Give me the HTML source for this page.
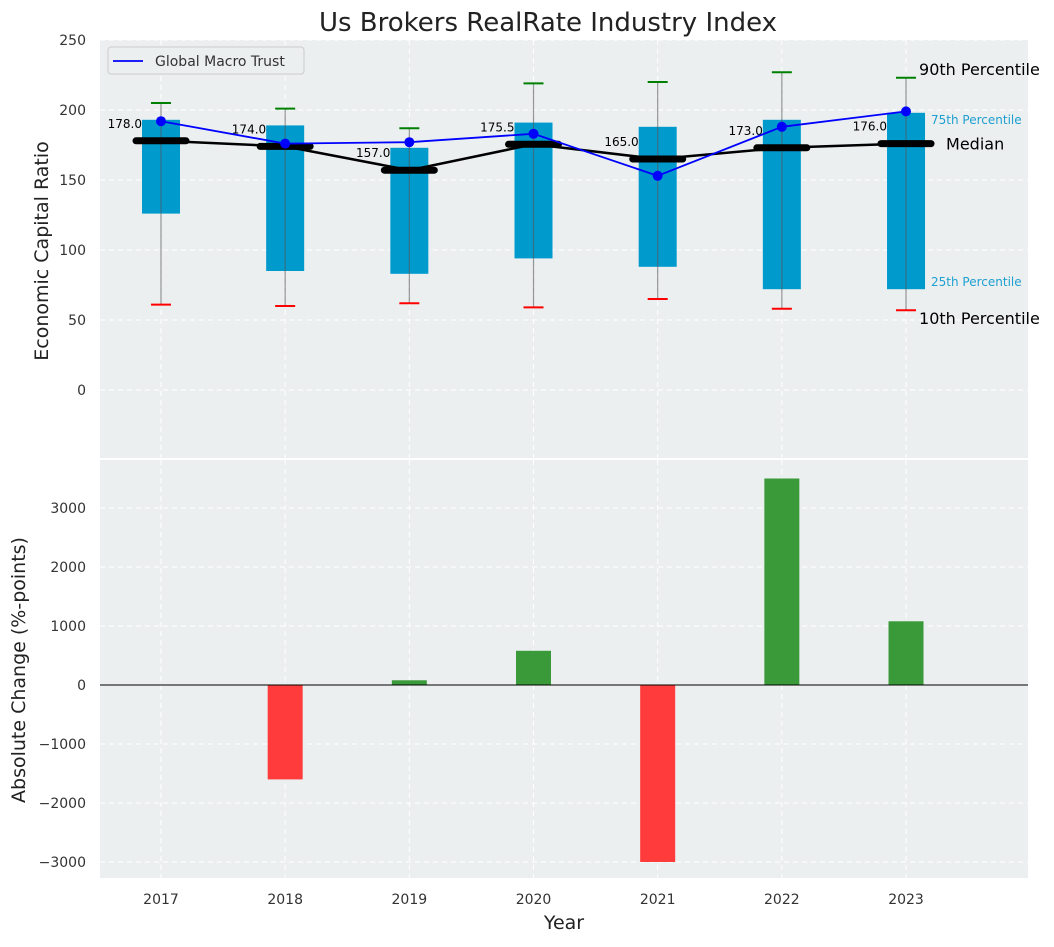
<!DOCTYPE html>
<html><head><meta charset="utf-8">
<style>
body{margin:0;background:#fff;font-family:"Liberation Sans","DejaVu Sans",sans-serif;}
svg text{font-family:"DejaVu Sans","Liberation Sans",sans-serif;}
</style></head>
<body>
<svg id="chart" width="1054" height="942" xmlns="http://www.w3.org/2000/svg"></svg>
<script>
const years=[2017,2018,2019,2020,2021,2022,2023];
const p10=[61,60,62,59,65,58,57];
const p25=[126,85,83,94,88,72,72];
const p50=[178,174,157,175.5,165,173,176];
const p75=[193,189,173,191,188,193,198];
const p90=[205,201,187,219,220,227,223];
const company=[192,176,177,183,153,188,199];
const changes=[0,-1600,80,580,-3000,3500,1080];
const topTicks=[0,50,100,150,200,250];
const botTicks=[-3000,-2000,-1000,0,1000,2000,3000];

const NS='http://www.w3.org/2000/svg';
const svg=document.getElementById('chart');
function el(tag,attrs,parent,text){const e=document.createElementNS(NS,tag);for(const k in attrs)e.setAttribute(k,attrs[k]);if(text!==undefined)e.textContent=text;(parent||svg).appendChild(e);return e;}
const L=100,R=1028;
const x=v=>161+(v-2017)*124.17;
const T1=40,B1=458,T2=460,B2=878;
const y1=v=>390-(v)*1.4;
const y2=v=>685-v*0.059;

let g=el('g',{});

el('rect',{x:L,y:T1,width:R-L,height:B1-T1,fill:'#ebeff0'},g);
let g2=el('g',{});

el('rect',{x:L,y:T2,width:R-L,height:B2-T2,fill:'#ebeff0'},g2);
years.forEach(yr=>{
 el('line',{x1:x(yr),x2:x(yr),y1:T1,y2:B1,stroke:'#fff','stroke-dasharray':'5,4','stroke-width':1},g);
 el('line',{x1:x(yr),x2:x(yr),y1:T2,y2:B2,stroke:'#fff','stroke-dasharray':'5,4','stroke-width':1},g2);
 const t=el('text',{x:x(yr),y:904,'text-anchor':'middle','font-size':14,fill:'#333'},svg,String(yr));
 
});
topTicks.forEach(v=>{
 el('line',{x1:L,x2:R,y1:y1(v),y2:y1(v),stroke:'#fff','stroke-dasharray':'5,4'},g);
 const t=el('text',{x:86,y:y1(v)+5,'text-anchor':'end','font-size':14,fill:'#333'},svg,String(v));
 
});
botTicks.forEach(v=>{
 el('line',{x1:L,x2:R,y1:y2(v),y2:y2(v),stroke:'#fff','stroke-dasharray':'5,4'},g2);
 const t=el('text',{x:86,y:y2(v)+5,'text-anchor':'end','font-size':14,fill:'#333'},svg,(v<0?'\u2212'+(-v):String(v)));
 
});
const bw=38;
years.forEach((yr,i)=>{
 const cx=x(yr);
 const b=el('rect',{x:cx-bw/2,y:y1(p75[i]),width:bw,height:y1(p25[i])-y1(p75[i]),fill:'#009acd'},g);
 
 el('line',{x1:cx,x2:cx,y1:y1(p90[i]),y2:y1(p10[i]),stroke:'#555','stroke-opacity':0.6,'stroke-width':1.2},g);
 el('line',{x1:cx-10,x2:cx+10,y1:y1(p90[i]),y2:y1(p90[i]),stroke:'green','stroke-width':2},g);
 el('line',{x1:cx-10,x2:cx+10,y1:y1(p10[i]),y2:y1(p10[i]),stroke:'red','stroke-width':2},g);
});
el('polyline',{points:years.map((yr,i)=>x(yr)+','+y1(p50[i])).join(' '),fill:'none',stroke:'#000','stroke-width':2.5},g);
years.forEach((yr,i)=>{
 const m=el('line',{x1:x(yr)-25,x2:x(yr)+25,y1:y1(p50[i]),y2:y1(p50[i]),stroke:'#000','stroke-width':7,'stroke-linecap':'round'},g);
 
 el('text',{x:x(yr)-19,y:y1(p50[i])-13,'text-anchor':'end','font-size':12,fill:'#000'},g,p50[i].toFixed(1));
});
el('polyline',{points:years.map((yr,i)=>x(yr)+','+y1(company[i])).join(' '),fill:'none',stroke:'#0000ff','stroke-width':1.8},g);
years.forEach((yr,i)=>{
 const c=el('circle',{cx:x(yr),cy:y1(company[i]),r:5,fill:'#0000ff'},g);
 
});
const lx=x(2023);
el('text',{x:lx+13,y:y1(p90[6])-3,'font-size':16,fill:'#000'},g,'90th Percentile');
el('text',{x:lx+25,y:y1(p75[6])+11,'font-size':12,fill:'#1e9fd0'},g,'75th Percentile');
el('text',{x:lx+40,y:y1(p50[6])+6,'font-size':16,fill:'#000'},g,'Median');
el('text',{x:lx+25,y:y1(p25[6])-3,'font-size':12,fill:'#1e9fd0'},g,'25th Percentile');
el('text',{x:lx+13,y:y1(p10[6])+14,'font-size':16,fill:'#000'},g,'10th Percentile');
const lg=el('g',{});

el('rect',{x:108,y:47,width:196,height:27,rx:3,fill:'#ebeff0',stroke:'#ccc'},lg);
el('line',{x1:113,x2:143,y1:61,y2:61,stroke:'#0000ff','stroke-width':1.8},lg);
el('text',{x:155,y:66,'font-size':14,fill:'#333'},lg,'Global Macro Trust');
years.forEach((yr,i)=>{
 const v=changes[i];const cx=x(yr);
 const r=el('rect',{x:cx-17.5,y:Math.min(y2(v),y2(0)),width:35,height:Math.abs(y2(v)-y2(0)),fill:v>=0?'#3a9a3a':'#ff3b3b'},g2);
 
});
el('line',{x1:L,x2:R,y1:y2(0),y2:y2(0),stroke:'#000','stroke-width':1},g2);
let t=el('text',{x:548,y:31,'text-anchor':'middle','font-size':26,fill:'#222'},svg,'Us Brokers RealRate Industry Index');

t=el('text',{x:0,y:0,'text-anchor':'middle','font-size':19,fill:'#222',transform:'translate(48,251) rotate(-90)'},svg,'Economic Capital Ratio');

t=el('text',{x:0,y:0,'text-anchor':'middle','font-size':19,fill:'#222',transform:'translate(25,670) rotate(-90)'},svg,'Absolute Change (%-points)');

t=el('text',{x:564,y:929,'text-anchor':'middle','font-size':19,fill:'#222'},svg,'Year');

</script>
</body></html>
